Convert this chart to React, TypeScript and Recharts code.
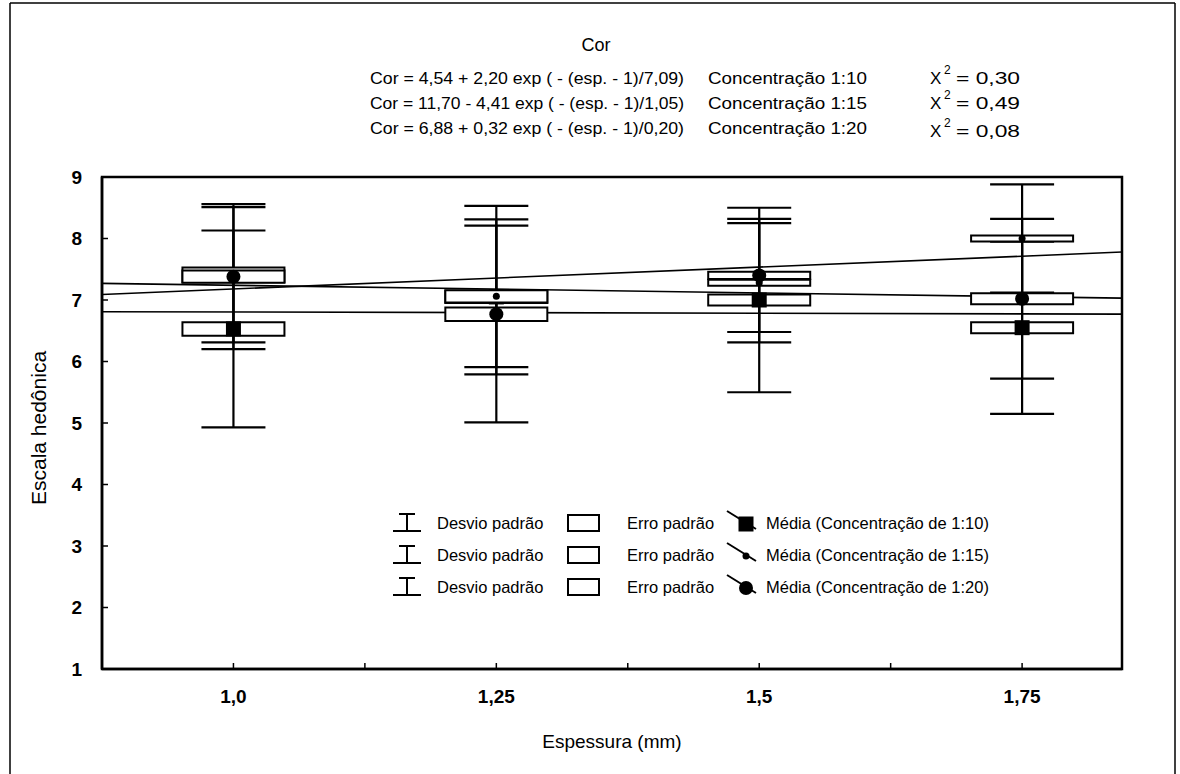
import React from "react";
import {
  ComposedChart,
  XAxis,
  YAxis,
  Scatter,
  ErrorBar,
  Line,
  ReferenceArea,
} from "recharts";

const espessura = [1.0, 1.25, 1.5, 1.75];

const xTicks = [1.0, 1.125, 1.25, 1.375, 1.5, 1.625, 1.75];
const xTickLabels = ["1,0", "", "1,25", "", "1,5", "", "1,75"];
const yTicks = [1, 2, 3, 4, 5, 6, 7, 8, 9];

// Concentração 1:10 (quadrado)
const media110 = [6.53, 7.05, 7.0, 6.55];
const erro110 = [0.11, 0.1, 0.09, 0.09];
const desvio110 = [1.6, 1.26, 1.5, 1.4];

// Concentração 1:15 (ponto)
const media115 = [7.41, 7.06, 7.28, 8.0];
const erro115 = [0.12, 0.1, 0.05, 0.05];
const desvio115 = [1.1, 1.15, 0.97, 0.88];

// Concentração 1:20 (círculo)
const media120 = [7.38, 6.77, 7.4, 7.02];
const erro120 = [0.1, 0.11, 0.06, 0.09];
const desvio120 = [1.18, 1.76, 0.92, 1.3];

const ajusteX = [0.875, 1.845];
const ajuste110 = [7.27, 7.03];
const ajuste115 = [7.09, 7.78];
const ajuste120 = [6.81, 6.77];

const equacoes = [
  "Cor = 4,54 + 2,20 exp ( - (esp. - 1)/7,09)",
  "Cor = 11,70 - 4,41 exp ( - (esp. - 1)/1,05)",
  "Cor = 6,88 + 0,32 exp ( - (esp. - 1)/0,20)",
];
const concentracoes = ["Concentração 1:10", "Concentração 1:15", "Concentração 1:20"];
const quiQuadrado = ["0,30", "0,49", "0,08"];

const FONT = "'Liberation Sans', Arial, sans-serif";
const BOX_HALF = 0.0485;

type Marker = "quadrado" | "ponto" | "circulo";

const series: {
  nome: string;
  media: number[];
  erro: number[];
  desvio: number[];
  ajuste: number[];
  marcador: Marker;
}[] = [
  { nome: "1:10", media: media110, erro: erro110, desvio: desvio110, ajuste: ajuste110, marcador: "quadrado" },
  { nome: "1:15", media: media115, erro: erro115, desvio: desvio115, ajuste: ajuste115, marcador: "ponto" },
  { nome: "1:20", media: media120, erro: erro120, desvio: desvio120, ajuste: ajuste120, marcador: "circulo" },
];

function drawMarker(kind: Marker, cx: number, cy: number) {
  if (kind === "quadrado") return <rect x={cx - 7.5} y={cy - 7.5} width={15} height={15} fill="#000" />;
  if (kind === "ponto") return <circle cx={cx} cy={cy} r={3.5} fill="#000" />;
  return <circle cx={cx} cy={cy} r={7} fill="#000" />;
}

const legendRows = [523, 555, 587];

export default function App() {
  // each concentration draws its boxes, then its markers, so the next one's white box can hide them
  const layers: React.ReactNode[] = [];
  series.forEach((s, k) => {
    espessura.forEach((x, i) => {
      layers.push(
        <ReferenceArea
          key={"ep" + s.nome + i}
          x1={x - BOX_HALF}
          x2={x + BOX_HALF}
          y1={s.media[i] - s.erro[i]}
          y2={s.media[i] + s.erro[i]}
          fill="#fff"
          fillOpacity={1}
          stroke="#000"
          strokeWidth={2}
          zIndex={610 + 10 * k}
        />
      );
    });
    layers.push(
      <Scatter
        key={"m" + s.nome}
        data={espessura.map((x, i) => ({ x, media: s.media[i], desvio: s.desvio[i] }))}
        dataKey="media"
        isAnimationActive={false}
        zIndex={615 + 10 * k}
        shape={(p: any) => drawMarker(s.marcador, p.cx, p.cy)}
      >
        <ErrorBar
          dataKey="desvio"
          direction="y"
          width={32}
          stroke="#000"
          strokeWidth={2.2}
          isAnimationActive={false}
        />
      </Scatter>
    );
  });

  return (
    <div style={{ position: "absolute", left: 0, top: 0, width: 1180, height: 774, background: "#fff" }}>
      <ComposedChart
        width={1180}
        height={774}
        margin={{ top: 177, right: 58, bottom: 65, left: 42 }}
      >
        <XAxis
          dataKey="x"
          type="number"
          domain={[0.875, 1.845]}
          allowDataOverflow
          ticks={xTicks}
          interval={0}
          tickFormatter={(v: number) => xTickLabels[xTicks.indexOf(v)] ?? ""}
          tickSize={-6}
          tickMargin={27}
          height={40}
          axisLine={{ stroke: "#000", strokeWidth: 2.5 }}
          tickLine={{ stroke: "#000", strokeWidth: 1.5 }}
          tick={{ fontSize: 19, fontWeight: 700, fill: "#000", fontFamily: FONT }}
        />
        <YAxis
          type="number"
          domain={[1, 9]}
          ticks={yTicks}
          interval={0}
          width={60}
          tickSize={-6}
          tickMargin={26}
          axisLine={{ stroke: "#000", strokeWidth: 2.5 }}
          tickLine={{ stroke: "#000", strokeWidth: 1.5 }}
          tick={{ fontSize: 19, fontWeight: 700, fill: "#000", fontFamily: FONT }}
        />
        {series.map((s) => (
          <Line
            key={"aj" + s.nome}
            data={ajusteX.map((x, i) => ({ x, ajuste: s.ajuste[i] }))}
            dataKey="ajuste"
            type="linear"
            dot={false}
            activeDot={false}
            stroke="#000"
            strokeWidth={1.6}
            isAnimationActive={false}
          />
        ))}
        {layers}
        <ReferenceArea
          x1={0.875}
          x2={1.845}
          y1={1}
          y2={9}
          fill="none"
          stroke="#000"
          strokeWidth={2.5}
          zIndex={700}
        />
      </ComposedChart>

      <svg
        width={1180}
        height={774}
        style={{ position: "absolute", left: 0, top: 0, pointerEvents: "none" }}
        fontFamily={FONT}
      >
        <line x1={10} y1={3} x2={10} y2={774} stroke="#000" strokeWidth={1.5} />
        <line x1={10} y1={3} x2={1175} y2={3} stroke="#000" strokeWidth={1.5} />
        <line x1={1175} y1={3} x2={1175} y2={774} stroke="#000" strokeWidth={1.5} />

        <text x={596} y={51} fontSize={18} textAnchor="middle">Cor</text>
        {equacoes.map((eq, i) => {
          const y = 84 + i * 25;
          const dy = i === 2 ? 3 : 0;
          return (
            <g key={eq}>
              <text x={370} y={y} fontSize={16} textLength={314} lengthAdjust="spacingAndGlyphs">{eq}</text>
              <text x={708} y={y} fontSize={16} textLength={159} lengthAdjust="spacingAndGlyphs">{concentracoes[i]}</text>
              <text x={930} y={y + dy} fontSize={17}>X</text>
              <text x={944} y={y - 10 + dy} fontSize={12}>2</text>
              <text x={956} y={y + dy} fontSize={16} textLength={64} lengthAdjust="spacingAndGlyphs">{"= " + quiQuadrado[i]}</text>
            </g>
          );
        })}

        <text
          x={40}
          y={428}
          fontSize={21}
          textAnchor="middle"
          dominantBaseline="middle"
          transform="rotate(-90 40 428)"
        >
          Escala hedônica
        </text>
        <text x={612} y={748} fontSize={19} textAnchor="middle">Espessura (mm)</text>

        {series.map((s, i) => {
          const y = legendRows[i];
          return (
            <g key={"lg" + s.nome}>
              <line x1={407} y1={y - 9} x2={407} y2={y + 8} stroke="#000" strokeWidth={2} />
              <line x1={399} y1={y - 9} x2={415} y2={y - 9} stroke="#000" strokeWidth={2} />
              <line x1={393} y1={y + 8} x2={421} y2={y + 8} stroke="#000" strokeWidth={2} />
              <text x={437} y={y + 6} fontSize={16.5}>Desvio padrão</text>
              <rect x={568} y={y - 8} width={31} height={16} fill="#fff" stroke="#000" strokeWidth={2} />
              <text x={627} y={y + 6} fontSize={16.5}>Erro padrão</text>
              <line x1={727} y1={y - 12} x2={756} y2={y + 6} stroke="#000" strokeWidth={2} />
              {drawMarker(s.marcador, 746, y + 1)}
              <text x={766} y={y + 6} fontSize={16.5}>{"Média (Concentração de " + s.nome + ")"}</text>
            </g>
          );
        })}
      </svg>
    </div>
  );
}
